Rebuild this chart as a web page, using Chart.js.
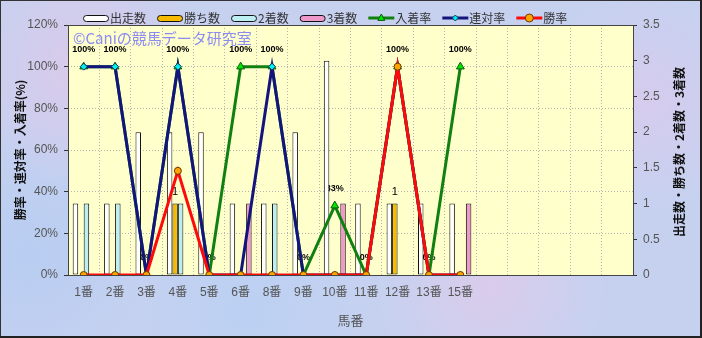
<!DOCTYPE html>
<html>
<head>
<meta charset="utf-8">
<script src="https://cdn.jsdelivr.net/npm/chart.js@4.4.1/dist/chart.umd.min.js"></script>
<style>
html, body { margin: 0; padding: 0; overflow: hidden; }
#wrap {
  position: relative;
  width: 702px;
  height: 338px;
  background:
    radial-gradient(circle at 12% 20%, rgba(228, 198, 232, 0.7), rgba(228, 198, 232, 0) 18%),
    radial-gradient(circle at 70% 85%, rgba(232, 200, 232, 0.6), rgba(232, 200, 232, 0) 20%),
    radial-gradient(circle at 35% 92%, rgba(184, 208, 244, 0.8), rgba(184, 208, 244, 0) 22%),
    radial-gradient(circle at 92% 30%, rgba(224, 200, 236, 0.6), rgba(224, 200, 236, 0) 16%),
    radial-gradient(circle at 4% 75%, rgba(180, 204, 242, 0.8), rgba(180, 204, 242, 0) 18%),
    #c6d1f0;
}
canvas { position: absolute; left: 0; top: 0; }
</style>
</head>
<body>
<div id="wrap"><canvas id="chart" width="702" height="338"></canvas></div>
<script>
// 馬番別成績
const horseNumbers = ['1番', '2番', '3番', '4番', '5番', '6番', '8番', '9番', '10番', '11番', '12番', '13番', '15番', '', '', '', '', ''];

const starts  = [1, 1, 2, 2, 2, 1, 1, 2, 3, 1, 1, 1, 1];
const wins    = [0, 0, 0, 1, 0, 0, 0, 0, 0, 0, 1, 0, 0];
const seconds = [1, 1, 0, 1, 0, 0, 1, 0, 0, 0, 0, 0, 0];
const thirds  = [0, 0, 0, 0, 0, 1, 0, 0, 1, 0, 0, 0, 1];

const placeRate    = [100, 100, 0, 100, 0, 100, 100, 0, 33.3, 0, 100, 0, 100];
const quinellaRate = [100, 100, 0, 100, 0, 0, 100, 0, 0, 0, 100, 0, 0];
const winRate      = [0, 0, 0, 50, 0, 0, 0, 0, 0, 0, 100, 0, 0];

const rateMax = 120;
const rateStep = 20;
const countMax = 3.5;
const countStep = 0.5;

const tickFont = '"Liberation Sans Narrow", "Liberation Sans", "Noto Sans CJK JP", sans-serif';
const jpFont = '"Noto Sans CJK JP", sans-serif';

// zero counts are not drawn as bars
const noZero = arr => arr.map(v => (v ? v : null));

function barSet(label, data, color, order) {
  return {
    type: 'bar',
    label: label,
    data: noZero(data),
    yAxisID: 'y2',
    backgroundColor: color,
    borderColor: '#111',
    borderWidth: 1,
    borderSkipped: false,
    categoryPercentage: 0.7,
    barPercentage: 1.0,
    order: order
  };
}

function lineSet(label, data, color, pointStyle, pointColor, pointBorder, radius, order) {
  return {
    type: 'line',
    label: label,
    data: data,
    yAxisID: 'y',
    borderColor: color,
    borderWidth: 3,
    pointStyle: pointStyle,
    pointRadius: radius,
    pointBackgroundColor: pointColor,
    pointBorderColor: pointBorder,
    pointBorderWidth: 1,
    tension: 0,
    fill: false,
    order: order
  };
}

function marker(ctx, style, x, y, r, fill, stroke) {
  ctx.save();
  ctx.fillStyle = fill;
  ctx.strokeStyle = stroke;
  ctx.lineWidth = 1;
  ctx.beginPath();
  if (style === 'triangle') {
    ctx.moveTo(x, y - r);
    ctx.lineTo(x + r * 0.87, y + r * 0.6);
    ctx.lineTo(x - r * 0.87, y + r * 0.6);
    ctx.closePath();
  } else if (style === 'rectRot') {
    ctx.moveTo(x, y - r);
    ctx.lineTo(x + r, y);
    ctx.lineTo(x, y + r);
    ctx.lineTo(x - r, y);
    ctx.closePath();
  } else {
    ctx.arc(x, y, r, 0, Math.PI * 2);
  }
  ctx.fill();
  ctx.stroke();
  ctx.restore();
}

const chartDecor = {
  id: 'chartDecor',
  beforeDraw(chart) {
    const { ctx, chartArea: a } = chart;
    ctx.save();
    ctx.fillStyle = '#ffffcc';
    ctx.fillRect(a.left, a.top, a.right - a.left, a.bottom - a.top);
    ctx.restore();
  },
  beforeDatasetsDraw(chart) {
    const { ctx, chartArea: a } = chart;
    ctx.save();
    // plot frame
    ctx.strokeStyle = '#444';
    ctx.lineWidth = 1;
    ctx.strokeRect(Math.round(a.left) + 0.5, Math.round(a.top) + 0.5,
      Math.round(a.right - a.left), Math.round(a.bottom - a.top));

    // watermark
    ctx.fillStyle = '#8b8bf2';
    ctx.font = '15px ' + jpFont;
    ctx.textBaseline = 'middle';
    ctx.textAlign = 'left';
    ctx.fillText('©Caniの競馬データ研究室', a.left + 5, a.top + 13);

    // 入着率 labels
    const placeMeta = chart.getDatasetMeta(4);
    ctx.fillStyle = '#000';
    ctx.font = 'bold 9px "Liberation Sans", sans-serif';
    ctx.textAlign = 'center';
    placeRate.forEach((v, i) => {
      const pt = placeMeta.data[i];
      ctx.fillText(Math.round(v) + '%', pt.x, pt.y - 17);
    });

    // 勝ち数 labels
    const winMeta = chart.getDatasetMeta(1);
    ctx.font = '11px "Liberation Sans", sans-serif';
    wins.forEach((v, i) => {
      if (!v) return;
      const bar = winMeta.data[i];
      ctx.fillText(String(v), bar.x, bar.y - 12);
    });
    ctx.restore();
  },
  afterDraw(chart) {
    const ctx = chart.ctx;
    ctx.save();

    // legend
    let x = 83;
    const y = 18;
    ctx.font = '12px ' + jpFont;
    ctx.textBaseline = 'middle';
    ctx.textAlign = 'left';
    chart.data.datasets.forEach(ds => {
      if (ds.type === 'line') {
        ctx.strokeStyle = ds.borderColor;
        ctx.lineWidth = 3;
        ctx.beginPath();
        ctx.moveTo(x, y);
        ctx.lineTo(x + 26, y);
        ctx.stroke();
        const r = ds.pointStyle === 'rectRot' ? 3 : 4;
        marker(ctx, ds.pointStyle, x + 13, y, r, ds.pointBackgroundColor, ds.pointBorderColor);
      } else {
        ctx.fillStyle = ds.backgroundColor;
        ctx.strokeStyle = '#111';
        ctx.lineWidth = 1;
        ctx.beginPath();
        ctx.roundRect(x + 0.5, y - 2.5, 25, 6, 3);
        ctx.fill();
        ctx.stroke();
      }
      x += 27;
      ctx.fillStyle = '#333';
      ctx.fillText(ds.label, x, y);
      x += ctx.measureText(ds.label).width + 11;
    });

    // right axis title (reads bottom to top)
    ctx.translate(679, 152);
    ctx.rotate(-Math.PI / 2);
    ctx.font = 'bold 12px ' + jpFont;
    ctx.fillStyle = '#111';
    ctx.textAlign = 'center';
    ctx.fillText('出走数・勝ち数・2着数・3着数', 0, 0);
    ctx.restore();

    // outer border
    ctx.save();
    ctx.strokeStyle = '#333';
    ctx.lineWidth = 1;
    ctx.strokeRect(0.5, 0.5, 700, 336);
    ctx.fillStyle = '#222';
    ctx.fillRect(700, 0, 2, 338);
    ctx.fillRect(0, 336, 702, 2);
    ctx.restore();
  }
};

new Chart(document.getElementById('chart'), {
  type: 'bar',
  data: {
    labels: horseNumbers,
    datasets: [
      barSet('出走数', starts, '#ffffff', 10),
      barSet('勝ち数', wins, '#f6bb00', 11),
      barSet('2着数', seconds, '#bdeef2', 12),
      barSet('3着数', thirds, '#ee99c9', 13),
      lineSet('入着率', placeRate, '#108010', 'triangle', '#00e600', '#0a5a0a', 4.5, 3),
      lineSet('連対率', quinellaRate, '#14147e', 'rectRot', '#00f0f0', '#0a3a5a', 3.5, 2),
      lineSet('勝率', winRate, '#ff0a0a', 'circle', '#ffa400', '#6a3a00', 3.5, 1)
    ]
  },
  options: {
    responsive: false,
    animation: false,
    layout: { padding: { top: 25, left: 0, right: 0, bottom: 0 } },
    plugins: {
      legend: { display: false },
      tooltip: { enabled: false }
    },
    scales: {
      x: {
        afterFit(scale) { scale.height = 63; },
        grid: { color: '#b4b4b4', drawTicks: false, offset: true },
        border: { display: false, dash: [1, 2] },
        ticks: {
          autoSkip: false,
          maxRotation: 0,
          padding: 10,
          color: '#555',
          font: { family: tickFont, size: 12 }
        },
        title: {
          display: true,
          text: '馬番',
          color: '#555',
          font: { family: jpFont, size: 13 },
          padding: { top: 0, bottom: 10 }
        }
      },
      y: {
        position: 'left',
        min: 0,
        max: rateMax,
        afterFit(scale) { scale.width = 68; },
        grid: { color: '#b4b4b4', tickColor: '#333', tickLength: 4 },
        border: { display: false, dash: [1, 2] },
        ticks: {
          stepSize: rateStep,
          padding: 6,
          color: '#555',
          font: { family: tickFont, size: 12 },
          callback: v => v + '%'
        },
        title: {
          display: true,
          text: '勝率・連対率・入着率(%)',
          color: '#111',
          font: { family: jpFont, size: 12, weight: 'bold' },
          padding: { top: 13, bottom: 0 }
        }
      },
      y2: {
        position: 'right',
        min: 0,
        max: countMax,
        afterFit(scale) { scale.width = 69; },
        grid: { drawOnChartArea: false, tickColor: '#333', tickLength: 4 },
        border: { display: false },
        ticks: {
          stepSize: countStep,
          padding: 6,
          color: '#555',
          font: { family: tickFont, size: 12 },
          callback: v => String(v)
        }
      }
    }
  },
  plugins: [chartDecor]
});
</script>
</body>
</html>
